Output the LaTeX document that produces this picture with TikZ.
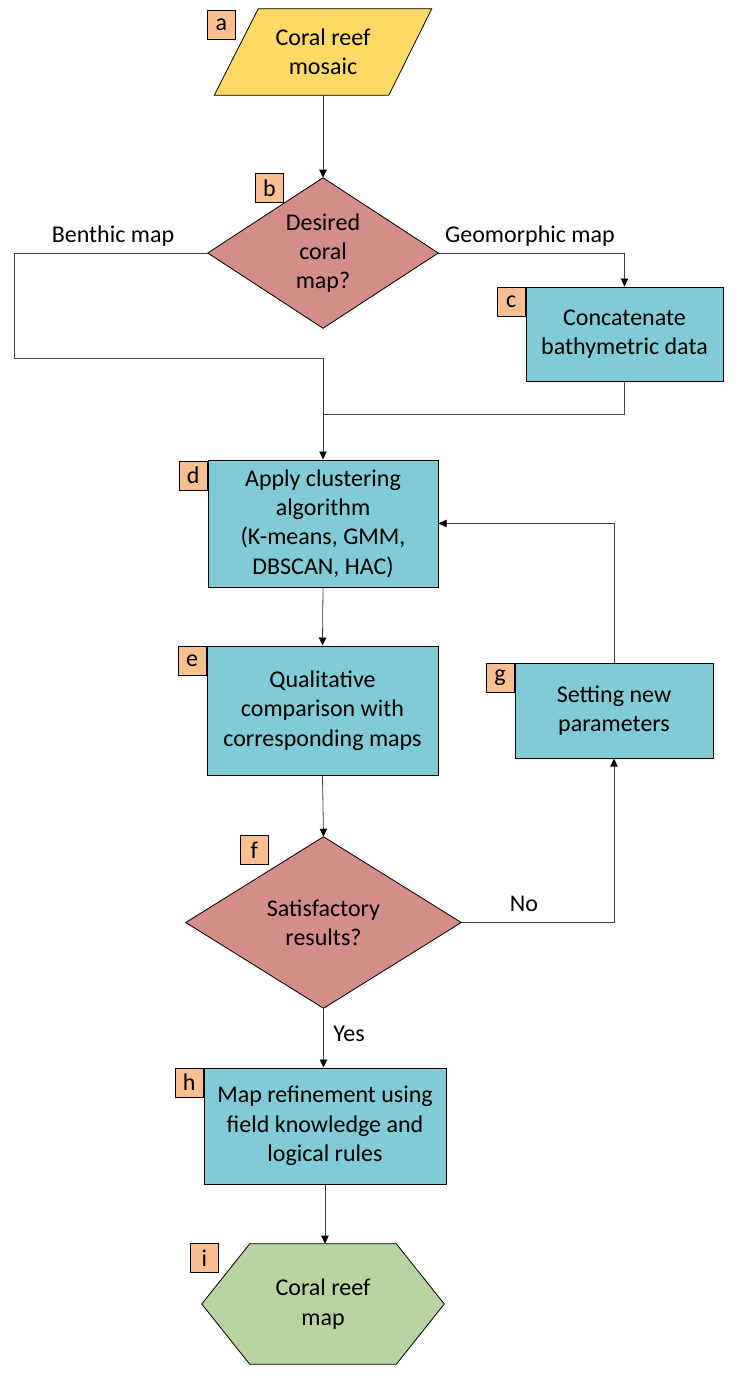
\documentclass[tikz,border=0pt]{standalone}
\usepackage{fontspec}
\setmainfont{Carlito}
\usetikzlibrary{arrows.meta,calc,backgrounds}
\definecolor{cyel}{HTML}{FFD966}
\definecolor{cdia}{HTML}{D48D88}
\definecolor{cblue}{HTML}{80CBD5}
\definecolor{cgreen}{HTML}{B7D39F}
\definecolor{clab}{HTML}{F8BF91}
\definecolor{cline}{HTML}{404040}
\begin{document}
\begin{tikzpicture}[x=0.75pt,y=-0.75pt,
  txt/.style={font=\fontsize{18}{22}\selectfont, align=center, inner sep=0pt},
  box/.style={txt, draw=black, line width=0.75pt, fill=cblue},
  shapebox/.style={txt, draw=none},
  outline/.style={draw=black, line width=0.6pt},
  lab/.style={txt, draw=black, line width=0.6pt, fill=clab, minimum width=21pt, minimum height=22pt, anchor=north west},
  conn/.style={draw=cline, line width=0.6pt},
  arr/.style={conn, -{Triangle[length=6pt,width=5.5pt,color=black]}},
  free/.style={txt}]
\useasboundingbox (0,0) rectangle (748,1379);

% shapes with text
\node[shapebox, minimum width=162.75pt, minimum height=64.5pt] (a) at (323,52) {Coral reef\\mosaic};
\node[shapebox, minimum width=172.5pt, minimum height=112.5pt] (b) at (323,253) {Desired\\coral\\map?};
\node[box, minimum width=147.75pt, minimum height=70.5pt] (c) at (624.5,334) {Concatenate\\bathymetric data};
\node[box, minimum width=172.5pt, minimum height=95.25pt] (d) at (323,523.5) {Apply clustering\\algorithm\\(K-means, GMM,\\DBSCAN, HAC)};
\node[box, minimum width=173.25pt, minimum height=96.75pt] (e) at (322.5,710.5) {Qualitative\\comparison with\\corresponding maps};
\node[shapebox, minimum width=206.25pt, minimum height=128.25pt] (f) at (323.5,922.5) {Satisfactory\\results?};
\node[box, minimum width=148.5pt, minimum height=71.25pt] (g) at (614,710.5) {Setting new\\parameters};
\node[box, minimum width=181.5pt, minimum height=87pt] (h) at (325,1126) {Map refinement using\\field knowledge and\\logical rules};
\node[shapebox, minimum width=181.5pt, minimum height=90pt] (i) at (323,1304) {Coral reef\\map};

\begin{scope}[on background layer]
\fill[white] (0,0) rectangle (748,1379);
\filldraw[outline, fill=cyel] ($(a.north west)+(44,0)$) -- (a.north east) -- ($(a.south east)+(-43,0)$) -- (a.south west) -- cycle;
\filldraw[outline, fill=cdia] (b.north) -- (b.east) -- (b.south) -- (b.west) -- cycle;
\filldraw[outline, fill=cdia] (f.north) -- (f.east) -- (f.south) -- (f.west) -- cycle;
\filldraw[outline, fill=cgreen] (i.west) -- ($(i.north west)+(48,0)$) -- ($(i.north east)+(-48,0)$) -- (i.east) -- ($(i.south east)+(-48,0)$) -- ($(i.south west)+(48,0)$) -- cycle;
\end{scope}

% letter labels
\node[lab] (la) at (207,10) {a};
\node[lab] (lb) at (255,173) {b};
\node[lab, anchor=north east] (lc) at (c.north west) {c};
\node[lab, anchor=north east] (ld) at ($(d.north west)+(0,1)$) {d};
\node[lab, anchor=north east] (le) at (e.north west) {e};
\node[lab] (lf) at (240,835) {f};
\node[lab, anchor=north east] (lg) at (g.north west) {g};
\node[lab, anchor=north east] (lh) at (h.north west) {h};
\node[lab] (li) at (190,1243) {i};

% helper coordinates
\coordinate (kL) at (14,358);
\coordinate (kJ) at (323,414);

% connectors
\draw[arr] (a.south) -- (b.north);
\draw[conn] (b.west) -| (kL);
\draw[arr] (kL) -| (d.north);
\draw[arr] (b.east) -| (c.north);
\draw[conn] (c.south) |- (kJ);
\draw[arr] (d.south) -- (e.north);
\draw[arr] (e.south) -- (f.north);
\draw[arr] (f.south) -- (f.south |- h.north);
\draw[arr] (f.east) -| (g.south);
\draw[arr] (g.north) |- (d.east);
\draw[arr] (h.south) -- (h.south |- i.north);

% branch labels
\node[free] (tb) at (113,236) {Benthic map};
\node[free] (tg) at (530,236) {Geomorphic map};
\node[free] (tno) at (524,904) {No};
\node[free] (tyes) at (349,1034) {Yes};
\end{tikzpicture}
\end{document}
